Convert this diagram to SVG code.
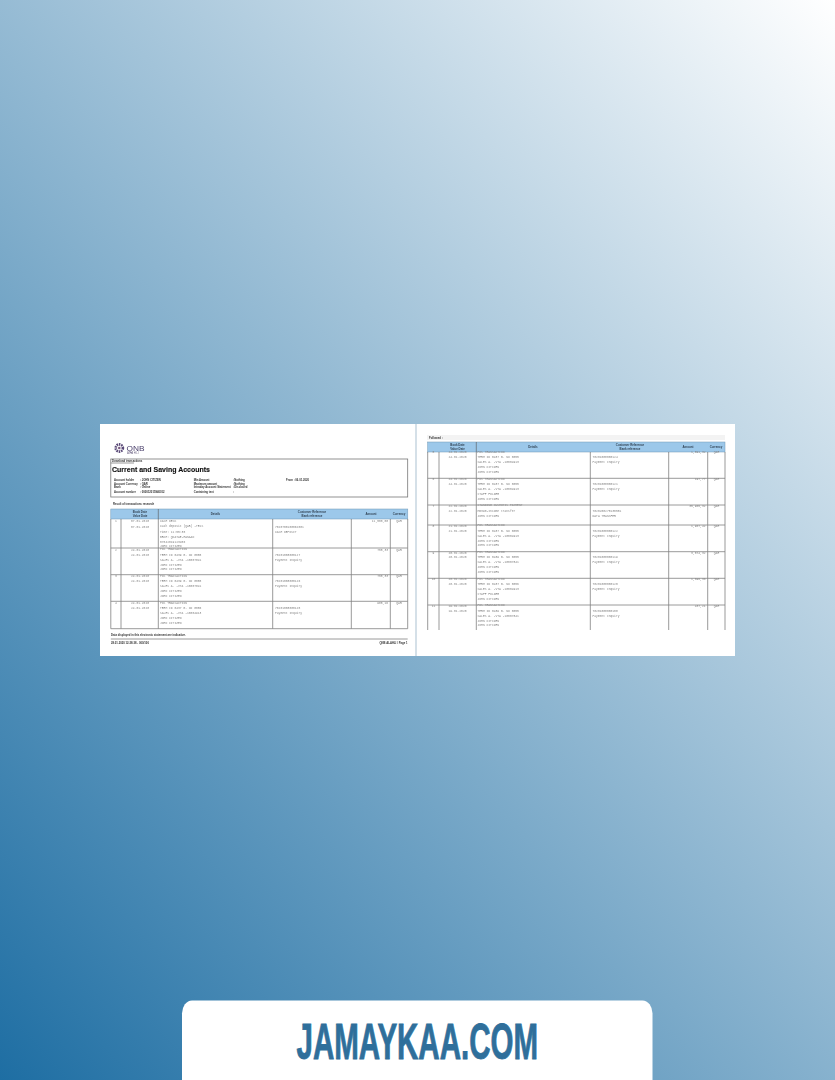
<svg xmlns="http://www.w3.org/2000/svg" width="835" height="1080" viewBox="0 0 835 1080">
<style>
text{font-family:"Liberation Sans",Arial,sans-serif}
.b{font-weight:bold;fill:#111}
.sb{font-size:2.75px;font-weight:bold;fill:#333}
.h{font-size:2.9px;font-weight:bold;fill:#345;text-anchor:middle}
.m{font-family:"Liberation Mono",monospace;font-size:3px;fill:#858585}
.e{text-anchor:end}.c{text-anchor:middle}
.l{stroke:#808080;stroke-width:.8;fill:none}
.v{stroke:#555;stroke-width:.6;fill:none}
.hd{fill:#9cc8ea;stroke:#6f97b5;stroke-width:.5}
</style>
<defs>
<linearGradient id="bg" gradientUnits="userSpaceOnUse" x1="0" y1="1080" x2="1004" y2="191">
<stop offset="0" stop-color="#1e6ea3"/>
<stop offset="1" stop-color="#ffffff"/>
</linearGradient>
<filter id="soft" x="-2%" y="-2%" width="104%" height="104%"><feGaussianBlur stdDeviation=".5"/></filter>
</defs>
<rect id="background" width="835" height="1080" fill="url(#bg)"/>
<g id="document" filter="url(#soft)">
<rect x="100" y="424" width="635" height="232" fill="#fff"/>
<rect x="415" y="424" width="2" height="232" fill="#d5e0e8"/>
<g id="page-1">
<g id="logo">
<circle cx="119.3" cy="448" r="3.6" fill="none" stroke="#5a4a78" stroke-width="2.6" stroke-dasharray="1.5 .8"/>
<circle cx="119.3" cy="448" r="1.3" fill="#7a5a80"/>
<text x="126.5" y="450.5" font-size="8" fill="#4a3f6b" textLength="18" lengthAdjust="spacingAndGlyphs">QNB</text>
<text x="127" y="454" font-size="2.8" fill="#6a6080" textLength="12">ALAHLI</text>
</g>
<rect x="110.8" y="459" width="296.9" height="38" fill="#fff" stroke="#777" stroke-width=".8"/>
<text class="sb" x="112" y="462.3">Download transactions</text>
<line class="l" x1="110.8" y1="463" x2="134" y2="463"/>
<text class="b" x="112" y="471.5" font-size="8" textLength="98" lengthAdjust="spacingAndGlyphs" stroke="#111" stroke-width=".15">Current and Saving Accounts</text>
<g>
<text class="sb" x="114" y="481">Account holder</text><text class="sb" x="140" y="481">: JOHN CITIZEN</text>
<text class="sb" x="114" y="484.6">Account Currency</text><text class="sb" x="140" y="484.6">: QAR</text>
<text class="sb" x="114" y="488.3">Bank</text><text class="sb" x="140" y="488.3">: Online</text>
<text class="sb" x="114" y="492.8">Account number</text><text class="sb" x="140" y="492.8">: 000012015940012</text>
<text class="sb" x="193.7" y="481">Min Amount</text><text class="sb" x="232.7" y="481">: Nothing</text>
<text class="sb" x="193.7" y="484.6">Maximum amount</text><text class="sb" x="232.7" y="484.6">: Nothing</text>
<text class="sb" x="193.7" y="488.3" textLength="37">Intraday Account Statement</text><text class="sb" x="232.7" y="488.3">: Disclosed</text>
<text class="sb" x="193.7" y="492.8">Containing text</text><text class="sb" x="232.7" y="492.8">:</text>
<text class="sb" x="286" y="481">From : 06.01.2020</text>
<text class="sb" x="113" y="504.5">Result of transactions research</text>
</g>
<g id="table-1">
<rect class="hd" x="110.8" y="509" width="297" height="10"/>
<text class="h" x="140" y="513.4">Book Date</text><text class="h" x="140" y="517">Value Date</text>
<text class="h" x="215.5" y="515">Details</text>
<text class="h" x="312" y="513.4">Customer Reference</text><text class="h" x="312" y="517">Bank reference</text>
<text class="h" x="371" y="515">Amount</text><text class="h" x="399" y="515">Currency</text>
<path class="v" d="M110.8 519V628.7M121 519V628.7M158.3 509V628.7M272.7 519V628.7M351.3 519V628.7M390.3 519V628.7M407.7 519V628.7"/>
<path class="l" d="M110.8 548H407.7M110.8 574.7H407.7M110.8 601.3H407.7M110.8 628.7H407.7"/>
<g id="r1">
<text x="116" y="522" class="m c">1</text><text x="140" y="522" class="m c">07.01.2020</text><text x="140" y="527.5" class="m c">07.01.2020</text>
<text x="160" y="521.5" class="m">CASH DESK</text><text x="160" y="527" class="m">Cash deposit (QAR) -TEXS</text><text x="160" y="532.5" class="m">Time: 11:55:35</text><text x="160" y="537.5" class="m">BRCH: QNATAE-HANAAN</text><text x="160" y="542.5" class="m">07042019123456</text><text x="160" y="547" class="m">JOHN CITIZEN</text>
<text x="275" y="527.5" class="m">7020700100062001</text><text x="275" y="532.5" class="m">CASH DEPOSIT</text>
<text x="388" y="522" class="m e">11,500,00</text><text x="399" y="522" class="m c">QAR</text>
</g>
<g id="r2">
<text x="116" y="550.8" class="m c">2</text><text x="140" y="550.8" class="m c">24.01.2020</text><text x="140" y="555.5" class="m c">24.01.2020</text>
<text x="160" y="550.3" class="m">POS TRANSACTION</text><text x="160" y="555.7" class="m">TERM ID 0439 B. No 0055</text><text x="160" y="560.5" class="m">SALES A. -VTA -10007841</text><text x="160" y="565.7" class="m">JOHN CITIZEN</text><text x="160" y="570.3" class="m">JOHN CITIZEN</text>
<text x="275" y="555.7" class="m">70201008000127</text><text x="275" y="560.5" class="m">Payment Inquiry</text>
<text x="388" y="550.8" class="m e">755,33</text><text x="399" y="550.8" class="m c">QAR</text>
</g>
<g id="r3" transform="translate(0 26.7)">
<text x="116" y="550.8" class="m c">3</text><text x="140" y="550.8" class="m c">24.01.2020</text><text x="140" y="555.5" class="m c">24.01.2020</text>
<text x="160" y="550.3" class="m">POS TRANSACTION</text><text x="160" y="555.7" class="m">TERM ID 0439 B. No 0055</text><text x="160" y="560.5" class="m">SALES A. -VTA -10007841</text><text x="160" y="565.7" class="m">JOHN CITIZEN</text><text x="160" y="570.3" class="m">JOHN CITIZEN</text>
<text x="275" y="555.7" class="m">70201008000126</text><text x="275" y="560.5" class="m">Payment Inquiry</text>
<text x="388" y="550.8" class="m e">755,33</text><text x="399" y="550.8" class="m c">QAR</text>
</g>
<g id="r4" transform="translate(0 53.4)">
<text x="116" y="550.8" class="m c">4</text><text x="140" y="550.8" class="m c">24.01.2020</text><text x="140" y="555.5" class="m c">24.01.2020</text>
<text x="160" y="550.3" class="m">POS TRANSACTION</text><text x="160" y="555.7" class="m">TERM ID 0437 B. No 0056</text><text x="160" y="560.5" class="m">SALES A. -VTA -10004913</text><text x="160" y="565.7" class="m">JOHN CITIZEN</text><text x="160" y="570.3" class="m">JOHN CITIZEN</text>
<text x="275" y="555.7" class="m">70201008000125</text><text x="275" y="560.5" class="m">Payment Inquiry</text>
<text x="388" y="550.8" class="m e">985,16</text><text x="399" y="550.8" class="m c">QAR</text>
</g>
</g>
<text class="sb" x="111" y="636">Data displayed in this electronic statement are indicative.</text>
<line class="l" x1="110.8" y1="639" x2="407.7" y2="639"/>
<text class="sb" x="111" y="644">28.01.2020 12:28:38 - 000/100</text>
<text class="sb e" x="407.5" y="644">QNB ALAHLI / Page 1</text>
</g>
<g id="page-2">
<rect x="427" y="435" width="298" height="5" fill="#f3f3f3"/>
<text class="sb" x="429" y="439">Followed :</text>
<rect class="hd" x="427.7" y="442" width="297.3" height="10"/>
<text class="h" x="457.5" y="446.4">Book Date</text><text class="h" x="457.5" y="450">Value Date</text>
<text class="h" x="533" y="448">Details</text>
<text class="h" x="630" y="446.4">Customer Reference</text><text class="h" x="630" y="450">Bank reference</text>
<text class="h" x="688" y="448">Amount</text><text class="h" x="716" y="448">Currency</text>
<path class="v" d="M427.7 452V630M439 452V630M476.3 442V630M590.3 452V630M668.7 452V630M707.7 452V630M725 452V630"/>
<path class="l" d="M427.7 478.3H725M427.7 505H725M427.7 525H725M427.7 551.7H725M427.7 578.3H725M427.7 605H725"/>
<g id="r5" transform="translate(317.5 -97.3)">
<text x="116" y="550.8" class="m c">5</text><text x="140" y="550.8" class="m c">24.01.2020</text><text x="140" y="555.5" class="m c">24.01.2020</text>
<text x="160" y="550.3" class="m">POS TRANSACTION</text><text x="160" y="555.7" class="m">TERM ID 0437 B. No 0055</text><text x="160" y="560.5" class="m">SALES A. -VTA -10004913</text><text x="160" y="565.7" class="m">JOHN CITIZEN</text><text x="160" y="570.3" class="m">JOHN CITIZEN</text>
<text x="275" y="555.7" class="m">70201008000124</text><text x="275" y="560.5" class="m">Payment Inquiry</text>
<text x="388" y="550.8" class="m e">1,591,32</text><text x="399" y="550.8" class="m c">QAR</text>
</g>
<g id="r6" transform="translate(317.5 -70.6)">
<text x="116" y="550.8" class="m c">6</text><text x="140" y="550.8" class="m c">24.01.2020</text><text x="140" y="555.5" class="m c">24.01.2020</text>
<text x="160" y="550.3" class="m">POS TRANSACTION</text><text x="160" y="555.7" class="m">TERM ID 0437 B. No 0055</text><text x="160" y="560.5" class="m">SALES A. -VTA -10004913</text><text x="160" y="565.7" class="m">STAFF FOLDER</text><text x="160" y="570.3" class="m">JOHN CITIZEN</text>
<text x="275" y="555.7" class="m">70201008000121</text><text x="275" y="560.5" class="m">Payment Inquiry</text>
<text x="388" y="550.8" class="m e">197,77</text><text x="399" y="550.8" class="m c">QAR</text>
</g>
<g id="r7" transform="translate(317.5 -43.9)">
<text x="116" y="550.8" class="m c">7</text><text x="140" y="550.8" class="m c">22.01.2020</text><text x="140" y="555.5" class="m c">22.01.2020</text>
<text x="160" y="550.3" class="m">STANDING CUSMOTIS PAYMENT</text><text x="160" y="555.7" class="m">MB390-Income transfer</text><text x="160" y="560.5" class="m">JOHN CITIZEN</text>
<text x="275" y="555.7" class="m">7020200275130581</text><text x="275" y="560.5" class="m">DATA TRANSFER</text>
<text x="388" y="550.8" class="m e">35,905,32</text><text x="399" y="550.8" class="m c">QAR</text>
</g>
<g id="r8" transform="translate(317.5 -23.9)">
<text x="116" y="550.8" class="m c">8</text><text x="140" y="550.8" class="m c">21.01.2020</text><text x="140" y="555.5" class="m c">21.01.2020</text>
<text x="160" y="550.3" class="m">POS TRANSACTION</text><text x="160" y="555.7" class="m">TERM ID 0437 B. No 0055</text><text x="160" y="560.5" class="m">SALES A. -VTA -10004913</text><text x="160" y="565.7" class="m">JOHN CITIZEN</text><text x="160" y="570.3" class="m">JOHN CITIZEN</text>
<text x="275" y="555.7" class="m">70201008000122</text><text x="275" y="560.5" class="m">Payment Inquiry</text>
<text x="388" y="550.8" class="m e">1,907,42</text><text x="399" y="550.8" class="m c">QAR</text>
</g>
<g id="r9" transform="translate(317.5 2.8)">
<text x="116" y="550.8" class="m c">9</text><text x="140" y="550.8" class="m c">20.01.2020</text><text x="140" y="555.5" class="m c">20.01.2020</text>
<text x="160" y="550.3" class="m">POS TRANSACTION</text><text x="160" y="555.7" class="m">TERM ID 0439 B. No 0055</text><text x="160" y="560.5" class="m">SALES A. -VTA -10007841</text><text x="160" y="565.7" class="m">JOHN CITIZEN</text><text x="160" y="570.3" class="m">JOHN CITIZEN</text>
<text x="275" y="555.7" class="m">70201008000119</text><text x="275" y="560.5" class="m">Payment Inquiry</text>
<text x="388" y="550.8" class="m e">3,574,32</text><text x="399" y="550.8" class="m c">QAR</text>
</g>
<g id="r10" transform="translate(317.5 29.5)">
<text x="116" y="550.8" class="m c">10</text><text x="140" y="550.8" class="m c">20.01.2020</text><text x="140" y="555.5" class="m c">20.01.2020</text>
<text x="160" y="550.3" class="m">POS TRANSACTION</text><text x="160" y="555.7" class="m">TERM ID 0437 B. No 0056</text><text x="160" y="560.5" class="m">SALES A. -VTA -10004913</text><text x="160" y="565.7" class="m">STAFF FOLDER</text><text x="160" y="570.3" class="m">JOHN CITIZEN</text>
<text x="275" y="555.7" class="m">70201008000120</text><text x="275" y="560.5" class="m">Payment Inquiry</text>
<text x="388" y="550.8" class="m e">1,595,30</text><text x="399" y="550.8" class="m c">QAR</text>
</g>
<g id="r11" transform="translate(317.5 56.2)">
<text x="116" y="550.8" class="m c">11</text><text x="140" y="550.8" class="m c">19.01.2020</text><text x="140" y="555.5" class="m c">19.01.2020</text>
<text x="160" y="550.3" class="m">POS TRANSACTION</text><text x="160" y="555.7" class="m">TERM ID 0439 B. No 0055</text><text x="160" y="560.5" class="m">SALES A. -VTA -10007841</text><text x="160" y="565.7" class="m">JOHN CITIZEN</text><text x="160" y="570.3" class="m">JOHN CITIZEN</text>
<text x="275" y="555.7" class="m">70201008000108</text><text x="275" y="560.5" class="m">Payment Inquiry</text>
<text x="388" y="550.8" class="m e">437,21</text><text x="399" y="550.8" class="m c">QAR</text>
</g>
</g>
</g>
<g id="banner">
<rect x="182" y="1000.5" width="470.5" height="100" rx="10" ry="13" fill="#fff"/>
<text x="296.5" y="1058.6" font-size="50" font-weight="bold" fill="#2f6f9b" stroke="#2f6f9b" stroke-width=".9" textLength="241.5" lengthAdjust="spacingAndGlyphs">JAMAYKAA.COM</text>
</g>
</svg>
